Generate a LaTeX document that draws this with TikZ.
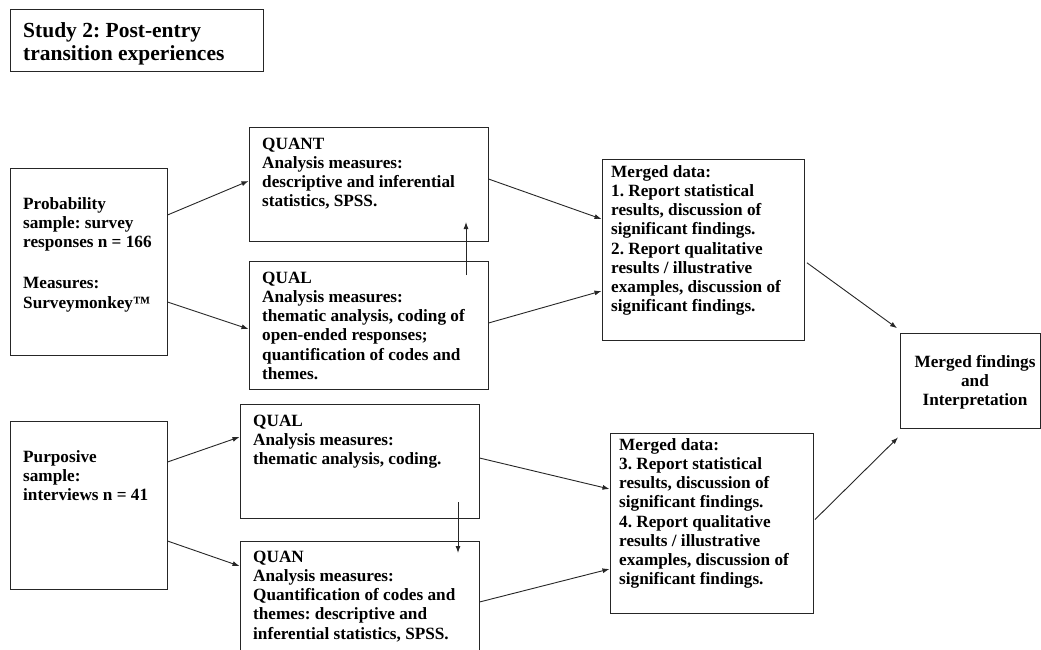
\documentclass[tikz,border=0pt]{standalone}
\usepackage{fontspec}
\setmainfont{Liberation Serif}
\usetikzlibrary{arrows.meta}
\frenchspacing
\begin{document}
\begin{tikzpicture}[x=1pt,y=-1pt,
  box/.style={draw=black!85, line width=1pt, rectangle, inner sep=0pt},
  txt/.style={anchor=north west, inner sep=0pt, align=left,
    font=\fontsize{17.2}{19.2}\selectfont\bfseries},
  ttl/.style={anchor=north west, inner sep=0pt, align=left,
    font=\fontsize{21.5}{23}\selectfont\bfseries},
  arr/.style={draw=black!85, line width=0.9pt, -{Latex[length=7pt,width=5pt]}}]
\fill[white] (0,0) rectangle (1041,650);
\useasboundingbox (0,0) rectangle (1041,650);

% boxes
\node[box, minimum width=253pt, minimum height=62pt] (title) at (136.5,41) {};
\node[box, minimum width=157pt, minimum height=187pt] (prob) at (88.5,261.5) {};
\node[box, minimum width=239pt, minimum height=113pt] (quant) at (368.5,184.5) {};
\node[box, minimum width=239pt, minimum height=128pt] (qual1) at (368.5,325) {};
\node[box, minimum width=202pt, minimum height=181pt] (m1) at (703,249.5) {};
\node[box, minimum width=140pt, minimum height=95pt] (find) at (970,380.5) {};
\node[box, minimum width=157pt, minimum height=168pt] (purp) at (88.5,505) {};
\node[box, minimum width=239pt, minimum height=114pt] (qual2) at (359.5,461) {};
\begin{scope}
\clip (0,0) rectangle (1041,650);
\node[box, minimum width=239pt, minimum height=129pt] (quan) at (359.5,605.5) {};
\end{scope}
\node[box, minimum width=203pt, minimum height=180pt] (m2) at (711.5,523) {};

% texts
\node[ttl] (titleT) at (23,18) {\rule{0pt}{19pt}Study 2: Post-entry\\transition experiences};
\node[txt] (probT) at (23,194) {\rule{0pt}{15pt}Probability\\sample: survey\\responses n = 166\\[22pt]Measures:\\Surveymonkey™};
\node[txt] (quantT) at (262,134) {\rule{0pt}{15pt}QUANT\\Analysis measures:\\descriptive and inferential\\statistics, SPSS.};
\node[txt] (qual1T) at (262,268) {\rule{0pt}{15pt}QUAL\\Analysis measures:\\thematic analysis, coding of\\open-ended responses;\\quantification of codes and\\themes.};
\node[txt] (m1T) at (611,162) {\rule{0pt}{15pt}Merged data:\\1. Report statistical\\results, discussion of\\significant findings.\\2. Report qualitative\\results / illustrative\\examples, discussion of\\significant findings.};
\node[txt, anchor=north, align=center] (findT) at (975,352) {\rule{0pt}{15pt}Merged findings\\and\\Interpretation};
\node[txt] (purpT) at (23,447) {\rule{0pt}{15pt}Purposive\\sample:\\interviews n = 41};
\node[txt] (qual2T) at (253,411) {\rule{0pt}{15pt}QUAL\\Analysis measures:\\thematic analysis, coding.};
\node[txt] (quanT) at (253,547) {\rule{0pt}{15pt}QUAN\\Analysis measures:\\Quantification of codes and\\themes: descriptive and\\inferential statistics, SPSS.};
\node[txt] (m2T) at (619,435) {\rule{0pt}{15pt}Merged data:\\3. Report statistical\\results, discussion of\\significant findings.\\4. Report qualitative\\results / illustrative\\examples, discussion of\\significant findings.};

% free-ended vertical connectors
\coordinate (v1s) at (466,275);
\coordinate (v1e) at (466,222);
\coordinate (v2s) at (458,502);
\coordinate (v2e) at (458,553);

% connectors
\draw[arr] (prob.east |- 0,215) -- (quant.west |- 0,181);
\draw[arr] (prob.east |- 0,302) -- (qual1.west |- 0,329);
\draw[arr] (v1s) -- (v1e);
\draw[arr] (quant.east |- 0,179) -- (m1.west |- 0,219);
\draw[arr] (qual1.east |- 0,323) -- (m1.west |- 0,291);
\draw[arr, shorten <=3pt, shorten >=3pt] (m1.east |- 0,261) -- (find.west |- 0,330);
\draw[arr] (purp.east |- 0,462) -- (qual2.west |- 0,437);
\draw[arr] (purp.east |- 0,541) -- (quan.west |- 0,566);
\draw[arr] (v2s) -- (v2e);
\draw[arr] (qual2.east |- 0,458) -- (m2.west |- 0,489);
\draw[arr] (quan.east |- 0,602) -- (m2.west |- 0,569);
\draw[arr, shorten <=2pt, shorten >=2pt] (m2.east |- 0,521) -- (find.west |- 0,436);
\end{tikzpicture}
\end{document}
